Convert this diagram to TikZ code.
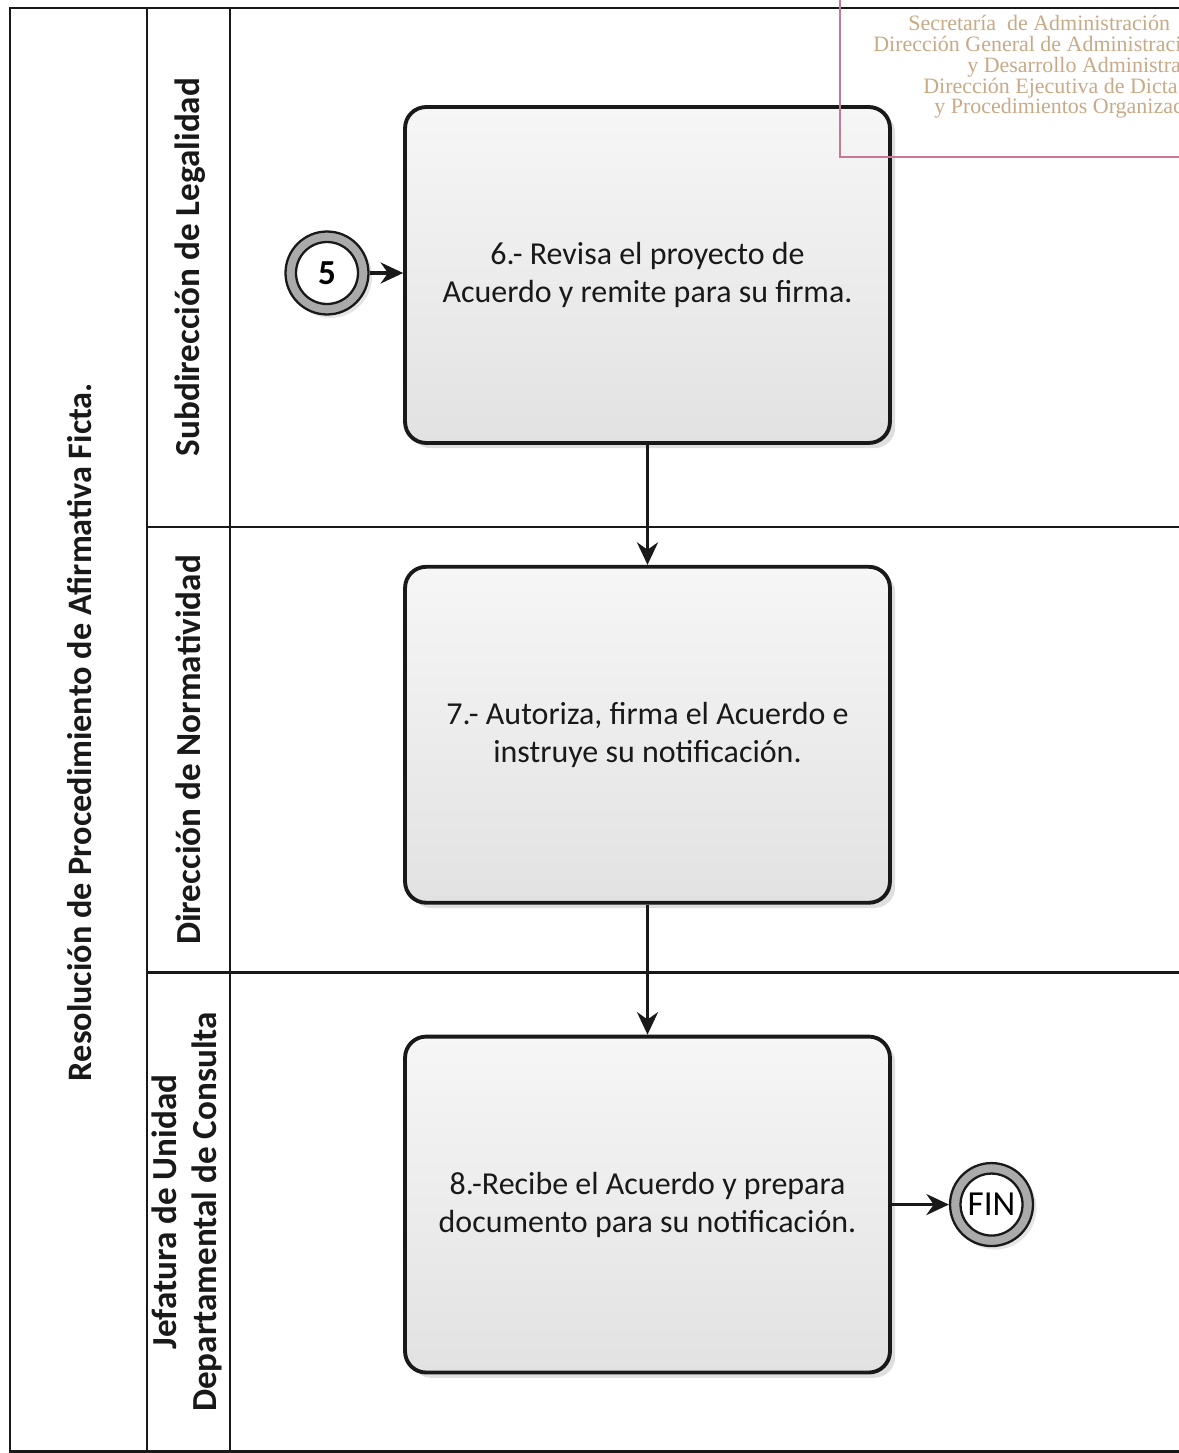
\documentclass[tikz,border=0pt]{standalone}
\usepackage{fontspec}
\setmainfont{Liberation Serif}
\setsansfont{Carlito}
\usepackage{xcolor}
\usepackage{tikz}
\usetikzlibrary{
  arrows.meta,
  positioning,
  shadows
}
\definecolor{LineBlack}{RGB}{25,25,25}
\definecolor{BoxTop}{RGB}{246,246,246}
\definecolor{BoxBottom}{RGB}{226,226,226}
\definecolor{RingGray}{RGB}{170,170,170}
\definecolor{StampPink}{RGB}{200,120,150}
\definecolor{StampTan}{RGB}{200,170,135}
\tikzset{
  %%── actividades del proceso ─────────────────────────────
  tarea/.style = {
    rectangle, rounded corners = 12pt,
    draw = LineBlack, line width = 2.2pt,
    top color = BoxTop, bottom color = BoxBottom,
    minimum width = 9.7cm, minimum height = 6.72cm,
    align = center, text = LineBlack,
    font = \sffamily\fontsize{18.2}{21.6}\selectfont,
    drop shadow = {shadow xshift = 3pt, shadow yshift = -3pt, opacity = 0.25}
  },
  %%── eventos de inicio / fin ─────────────────────────────
  evento/.style = {
    circle, draw = LineBlack, line width = 1.3pt,
    fill = RingGray, minimum size = 1.66cm, inner sep = 0pt,
    font = \sffamily\fontsize{20}{22}\selectfont,
    path picture = {
      \draw[line width = 1.3pt, fill = white]
        (path picture bounding box.center) circle (0.62cm);
    },
    drop shadow = {shadow xshift = 2pt, shadow yshift = -2pt, opacity = 0.2}
  },
  %%── carriles ────────────────────────────────────────────
  carril/.style = {
    rotate = 90, align = center, text = LineBlack,
    font = \sffamily\bfseries\fontsize{20}{23}\selectfont
  },
  titulo/.style = {
    rotate = 90, text = LineBlack,
    font = \sffamily\bfseries\fontsize{19.5}{22}\selectfont
  },
  marco/.style = {line width = 1.7pt, color = LineBlack},
  sello/.style = {
    anchor = base west, inner sep = 0pt, text = StampTan,
    font = \rmfamily\fontsize{12.5}{12}\selectfont
  },
  %%── flechas ─────────────────────────────────────────────
  arr/.style = {-{Stealth[length = 0.45cm, width = 0.42cm]},
                line width = 1.8pt, color = LineBlack},
}

\begin{document}
\begin{tikzpicture}[x = 0.02cm, y = -0.02cm]

  \useasboundingbox[fill = white] (0,0) rectangle (1179,1453);

  %% marco y carriles
  \draw[marco] (1179,8) -- (10,8) -- (10,1451) -- (1179,1451);
  \draw[marco] (147,8) -- (147,1451);
  \draw[marco] (230,8) -- (230,1451);
  \draw[marco] (147,527) -- (1179,527);
  \draw[marco] (147,972) -- (1179,972);

  \node[titulo] (proc) at (80,732)
    {Resolución de Procedimiento de Afirmativa Ficta.};
  \node[carril] (legal) at (190,267) {Subdirección de Legalidad};
  \node[carril] (norma) at (188,750) {Dirección de Normatividad};
  \node[carril] (consul) at (187,1212)
    {Jefatura de Unidad\\Departamental de Consulta};

  %% actividades
  \node[tarea] (t6) at (647.5,275)
    {6.- Revisa el proyecto de\\Acuerdo y remite para su firma.};
  \node[tarea, below = 2.40cm of t6] (t7)
    {7.- Autoriza, firma el Acuerdo e\\instruye su notificación.};
  \node[tarea, below = 2.60cm of t7] (t8)
    {8.-Recibe el Acuerdo y prepara\\documento para su notificación.};

  \node[evento, font = \sffamily\bfseries\fontsize{20}{22}\selectfont] (ini) at (327,273) {5};
  \node[evento, right = 1.14cm of t8] (fin) {FIN};

  %% flechas
  \draw[arr] (ini) -- (ini -| t6.west);
  \draw[arr] (t6) -- (t7);
  \draw[arr] (t7) -- (t8);
  \draw[arr] (t8) -- (fin);

  %% sello (encima de la primera actividad)
  \draw[StampPink, line width = 0.8pt] (1190,-5) -- (1190,157) -- (840,157) -- (840,-5);
  \node[sello] (sello1) at (908,31)  {Secretaría\ \ de Administración};
  \node[sello] (sello2) at (873,52)  {Dirección General de Administraci};
  \node[sello] (sello3) at (967,73)  {y Desarrollo Administra};
  \node[sello] (sello4) at (923,94)  {Dirección Ejecutiva de Dicta};
  \node[sello] (sello5) at (934,114) {y Procedimientos Organizac};

\end{tikzpicture}
\end{document}
